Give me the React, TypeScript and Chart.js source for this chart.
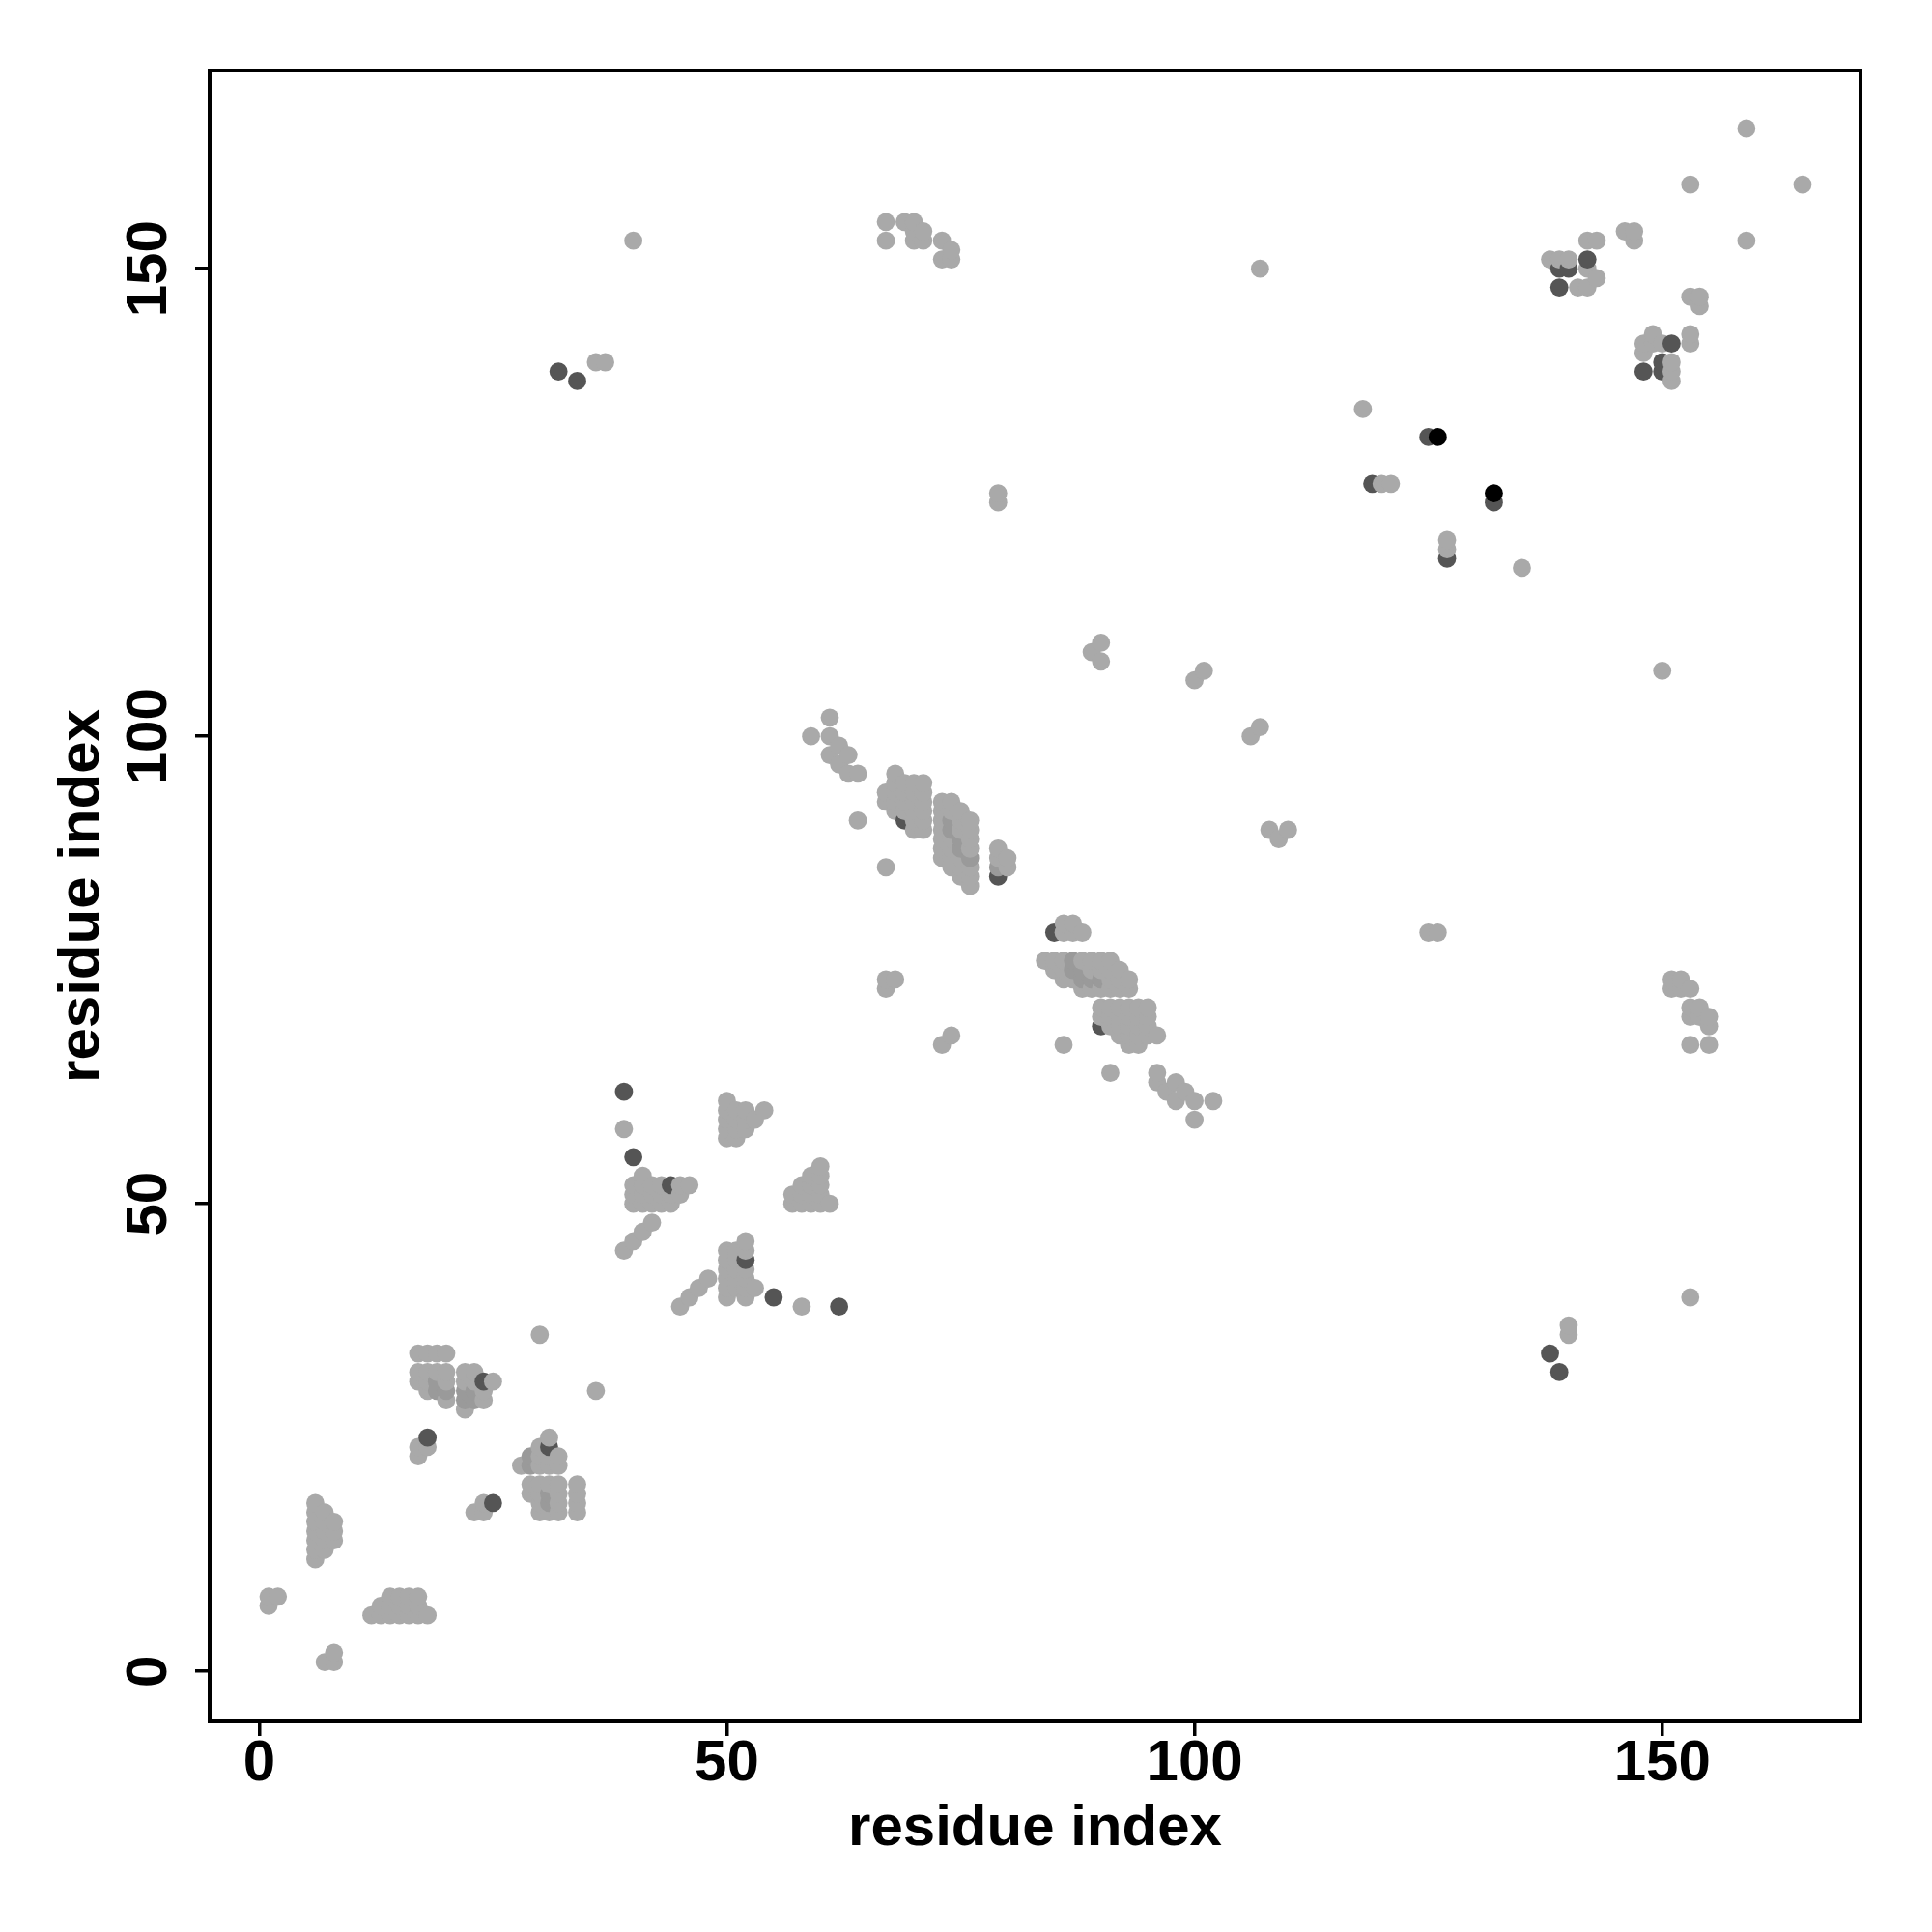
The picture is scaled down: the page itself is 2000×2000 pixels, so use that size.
import React, { useEffect, useRef } from "react";
import { Chart, registerables } from "chart.js";

Chart.register(...registerables);

const xTickValues = [0, 50, 100, 150];
const yTickValues = [0, 50, 100, 150];
const xAxisTitle = "residue index";
const yAxisTitle = "residue index";

const LIGHT = "#a9a9a9";
const MID = "#9a9a9a";
const DARK = "#555555";
const BLACK = "#000000";

// contacts [i, j] with light grey weight
const lightContacts: number[][] = [
  [7, 1], [8, 1], [8, 2], [1, 7], [1, 8], [2, 8],
  [12, 6], [13, 6], [14, 6], [15, 6], [16, 6], [17, 6], [18, 6],
  [13, 7], [14, 7], [15, 7], [16, 7], [17, 7],
  [14, 8], [15, 8], [16, 8], [17, 8],
  [6, 12], [6, 13], [6, 14], [6, 15], [6, 16], [6, 17], [6, 18],
  [7, 13], [7, 14], [7, 15], [7, 16], [7, 17],
  [8, 14], [8, 15], [8, 16],
  [17, 23], [17, 24], [18, 24], [23, 17], [24, 17], [24, 18],
  [17, 34], [18, 34], [19, 34], [20, 34],
  [17, 32], [18, 32], [19, 32], [20, 32], [17, 31], [18, 31], [20, 31], [18, 30], [20, 29],
  [22, 28], [22, 31], [22, 32], [23, 31], [23, 32], [24, 29], [24, 30], [25, 31],
  [31, 25], [30, 24], [30, 23], [31, 23], [32, 23], [28, 22], [30, 22], [31, 22], [32, 22],
  [29, 20], [29, 19], [30, 20], [30, 19], [30, 18], [30, 17], [31, 20], [31, 17],
  [32, 20], [32, 19], [32, 18], [32, 17], [34, 20], [34, 19], [34, 18], [34, 17],
  [30, 36], [36, 30],
  [39, 58], [41, 53],
  [40, 52], [41, 52], [42, 52], [43, 52], [45, 52], [46, 52],
  [40, 51], [41, 51], [42, 51], [43, 51], [44, 51], [45, 51],
  [40, 50], [41, 50], [42, 50], [43, 50], [44, 50],
  [39, 45], [40, 46], [41, 47], [42, 48], [45, 39], [46, 40], [47, 41], [48, 42],
  [50, 40], [50, 41], [50, 42], [50, 43], [50, 44], [50, 45],
  [51, 41], [51, 42], [51, 43], [51, 44], [51, 45],
  [52, 40], [52, 41], [52, 42], [52, 43], [52, 45], [52, 46], [53, 41], [58, 39],
  [50, 57], [50, 58], [50, 59], [50, 60], [50, 61], [51, 57], [51, 58], [51, 59], [51, 60],
  [52, 58], [52, 59], [52, 60], [53, 59], [54, 60],
  [60, 54], [59, 53], [60, 53], [58, 52], [59, 52], [60, 52],
  [57, 51], [58, 51], [59, 51], [60, 51], [57, 50], [58, 50], [59, 50], [60, 50], [61, 50],
  [61, 102], [59, 100], [61, 100], [62, 99], [61, 98], [63, 98], [62, 97], [63, 96], [64, 96],
  [64, 91], [67, 86], [67, 74], [68, 74], [67, 73],
  [68, 96], [68, 95], [69, 95], [70, 95], [71, 95],
  [67, 94], [68, 94], [69, 94], [70, 94], [71, 94],
  [67, 93], [68, 93], [69, 93], [70, 93], [71, 93],
  [68, 92], [69, 92], [70, 92], [71, 92], [70, 91], [71, 91], [70, 90], [71, 90],
  [73, 87], [73, 88], [73, 89], [73, 90], [73, 91], [73, 92], [73, 93],
  [74, 86], [74, 87], [74, 88], [74, 89], [74, 92], [74, 93],
  [75, 85], [75, 86], [75, 87], [75, 90], [75, 91], [75, 92],
  [76, 84], [76, 85], [76, 86], [76, 88], [76, 89], [76, 90], [76, 91],
  [79, 87], [79, 88], [80, 86], [80, 87],
  [73, 67], [74, 68], [86, 67],
  [86, 80], [87, 80], [86, 79], [87, 79], [88, 79],
  [84, 76], [85, 76], [86, 76], [88, 76], [89, 76], [90, 76], [91, 76],
  [85, 75], [86, 75], [89, 75], [90, 75], [91, 75], [92, 75],
  [86, 74], [87, 74], [91, 74], [92, 74], [93, 74],
  [88, 73], [89, 73], [90, 73], [91, 73], [92, 73], [93, 73],
  [90, 71], [91, 71], [92, 71], [93, 71], [94, 71], [95, 71],
  [90, 70], [91, 70], [92, 70], [93, 70], [94, 70], [95, 70],
  [91, 69], [92, 69], [93, 69], [94, 69], [95, 69],
  [92, 68], [93, 68], [94, 68], [95, 68], [96, 68], [93, 67], [94, 67],
  [91, 64], [96, 64], [96, 63], [98, 63], [97, 62], [99, 62], [98, 61], [100, 61], [102, 61], [100, 59],
  [89, 109], [90, 110], [90, 108], [100, 106], [101, 107], [106, 100], [107, 101],
  [108, 90], [110, 90], [109, 89], [79, 126], [79, 125],
  [40, 153], [36, 140], [37, 140],
  [67, 155], [67, 153], [69, 155], [70, 155], [70, 154], [70, 153], [71, 154], [71, 153],
  [73, 153], [74, 152], [73, 151], [74, 151],
  [118, 135], [120, 127], [121, 127], [127, 121], [127, 120], [135, 118],
  [159, 165], [153, 159], [165, 159], [159, 153], [146, 154], [147, 154], [147, 153],
  [142, 153], [143, 153], [138, 151], [139, 151], [140, 151],
  [142, 150], [143, 149], [141, 148], [142, 148], [153, 147], [154, 147], [154, 146],
  [149, 143], [148, 142], [149, 142], [150, 142], [148, 141], [153, 143], [153, 142],
  [151, 140], [151, 139], [151, 138],
  [151, 74], [152, 74], [151, 73], [152, 73], [153, 73], [153, 71], [154, 71],
  [153, 70], [154, 70], [155, 70], [155, 69], [153, 67], [155, 67],
  [153, 40], [140, 37], [140, 36],
  [107, 150], [150, 107], [125, 79], [126, 79],
];

// contacts with a slightly stronger grey
const midContacts: number[][] = [
  [19, 31], [19, 30], [20, 30], [22, 29], [22, 30], [23, 29], [23, 30],
  [29, 23], [29, 22], [31, 19], [31, 18],
  [74, 90], [74, 91], [75, 88], [75, 89], [76, 87], [79, 86],
  [87, 76], [87, 75], [88, 75], [88, 74], [89, 74], [90, 74],
];

// dark grey contacts
const darkContacts: number[][] = [
  [18, 25], [25, 18], [24, 31], [31, 24],
  [39, 62], [40, 55], [44, 52], [52, 44], [55, 40], [62, 39],
  [69, 91], [79, 85], [85, 79], [90, 69],
  [32, 139], [34, 138], [125, 132], [119, 127], [132, 125], [127, 119],
  [142, 151], [139, 150], [140, 150], [139, 148], [151, 142], [148, 139], [150, 140], [150, 139],
  [138, 34], [139, 32],
];

// black contacts
const blackContacts: number[][] = [
  [126, 132], [132, 126],
];

export default function App() {
  const canvasRef = useRef<HTMLCanvasElement | null>(null);

  useEffect(() => {
    const canvas = canvasRef.current;
    if (!canvas) return;

    const pts = [
      ...lightContacts.map((p) => ({ x: p[0], y: p[1], c: LIGHT })),
      ...midContacts.map((p) => ({ x: p[0], y: p[1], c: MID })),
      ...darkContacts.map((p) => ({ x: p[0], y: p[1], c: DARK })),
      ...blackContacts.map((p) => ({ x: p[0], y: p[1], c: BLACK })),
    ].sort((a, b) => a.x - b.x || a.y - b.y);

    const FONT = 'bold 60px "Liberation Sans", Arial, sans-serif';

    const frame = {
      id: "frameAndLabels",
      afterDraw(chart: any) {
        const { ctx, chartArea, scales } = chart;
        ctx.save();
        ctx.strokeStyle = "#000";
        ctx.lineWidth = 4;
        ctx.strokeRect(chartArea.left, chartArea.top, chartArea.right - chartArea.left, chartArea.bottom - chartArea.top);
        ctx.fillStyle = "#000";
        ctx.font = FONT;
        ctx.textAlign = "center";
        ctx.textBaseline = "alphabetic";
        xTickValues.forEach((v) => {
          ctx.fillText(String(v), scales.x.getPixelForValue(v), 1843);
        });
        ctx.fillText(xAxisTitle, (chartArea.left + chartArea.right) / 2, 1910);
        yTickValues.forEach((v) => {
          ctx.save();
          ctx.translate(172, scales.y.getPixelForValue(v));
          ctx.rotate(-Math.PI / 2);
          ctx.fillText(String(v), 0, 0);
          ctx.restore();
        });
        ctx.save();
        ctx.translate(102, (chartArea.top + chartArea.bottom) / 2);
        ctx.rotate(-Math.PI / 2);
        ctx.fillText(yAxisTitle, 0, 0);
        ctx.restore();
        ctx.restore();
      },
    };

    const tickGrid = {
      display: true,
      drawOnChartArea: false,
      drawTicks: true,
      tickLength: 15,
      lineWidth: 3.5,
      tickWidth: 3.5,
      tickColor: "#000",
      color: "#000",
    };

    const chart = new Chart(canvas, {
      type: "scatter",
      data: {
        datasets: [
          {
            data: pts.map((p) => ({ x: p.x, y: p.y })),
            pointBackgroundColor: pts.map((p) => p.c),
            pointBorderColor: pts.map((p) => p.c),
            pointBorderWidth: 0,
            pointRadius: 9.4,
            pointHoverRadius: 9.4,
          },
        ],
      },
      options: {
        animation: false,
        responsive: false,
        devicePixelRatio: 1,
        events: [],
        layout: { padding: { left: 0, top: 73, right: 74, bottom: 0 }, autoPadding: false },
        plugins: { legend: { display: false }, tooltip: { enabled: false }, title: { display: false } },
        scales: {
          x: {
            type: "linear",
            position: "bottom",
            min: -5.3,
            max: 171.2,
            afterBuildTicks: (s: any) => {
              s.ticks = xTickValues.map((v) => ({ value: v }));
            },
            afterFit: (s: any) => {
              s.height = 218;
            },
            ticks: { display: false },
            grid: tickGrid,
            border: { display: false },
          },
          y: {
            type: "linear",
            position: "left",
            min: -5.35,
            max: 171.2,
            afterBuildTicks: (s: any) => {
              s.ticks = yTickValues.map((v) => ({ value: v }));
            },
            afterFit: (s: any) => {
              s.width = 217;
            },
            ticks: { display: false },
            grid: tickGrid,
            border: { display: false },
          },
        },
      },
      plugins: [frame],
    } as any);

    return () => chart.destroy();
  }, []);

  return (
    <div style={{ position: "absolute", left: 0, top: 0, width: 2000, height: 2000, background: "#fff" }}>
      <canvas ref={canvasRef} width={2000} height={2000} style={{ width: 2000, height: 2000, display: "block" }} />
    </div>
  );
}
